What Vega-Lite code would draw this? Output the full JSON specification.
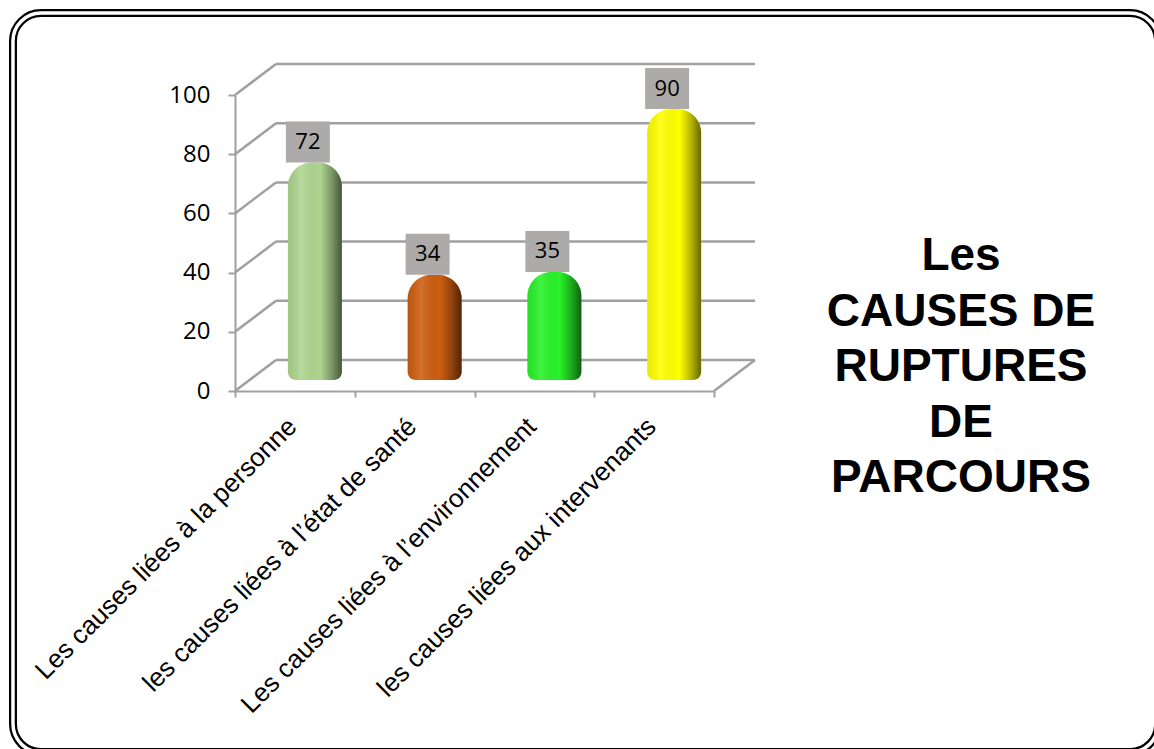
{
  "$schema": "https://vega.github.io/schema/vega-lite/v6.json",
  "width": 479,
  "height": 296,
  "autosize": {"type": "none"},
  "padding": {"left": 235, "top": 95, "right": 440, "bottom": 358},
  "background": "white",
  "config": {
    "view": {"stroke": null},
    "axisY": {
      "domainColor": "#a0a0a0", "domainWidth": 2,
      "tickColor": "#a0a0a0", "tickWidth": 2, "tickSize": 7,
      "labelFont": "Open Sans", "labelFontSize": 24, "labelColor": "black",
      "labelPadding": 18, "grid": false, "title": null
    },
    "axisX": {
      "domainColor": "#a0a0a0", "domainWidth": 2,
      "tickColor": "#a0a0a0", "tickWidth": 2, "tickSize": 6,
      "labelFont": "Liberation Sans", "labelFontSize": 26, "labelColor": "black",
      "labelAngle": -45, "labelLimit": 0, "labelPadding": 16, "labelOffset": -12, "tickBand": "extent", "grid": false, "title": null
    }
  },
  "title": {
    "text": ["Les", "CAUSES DE", "RUPTURES", "DE", "PARCOURS"],
    "orient": "top", "anchor": "start", "frame": "group", "align": "center", "baseline": "top",
    "dx": 726, "dy": 497,
    "font": "Liberation Sans", "fontSize": 46, "fontWeight": "bold", "lineHeight": 55.5, "color": "black"
  },
  "datasets": {
    "causes": [
      {"cause": "Les causes liées à la personne", "value": 72},
      {"cause": "les causes liées à l’état de santé", "value": 34},
      {"cause": "Les causes liées à l’environnement", "value": 35},
      {"cause": "les causes liées aux intervenants", "value": 90}
    ],
    "grid": [{"v": 0}, {"v": 20}, {"v": 40}, {"v": 60}, {"v": 80}, {"v": 100}]
  },
  "layer": [
    {
      "data": {"values": [{}]},
      "layer": [
        {
          "mark": {"type": "rect", "filled": false, "stroke": "black", "strokeWidth": 8, "cornerRadius": 28},
          "encoding": {
            "x": {"datum": -1.854, "type": "quantitative", "scale": {"domain": [0, 4]}, "axis": null},
            "x2": {"datum": 7.708},
            "y": {"datum": 127.7, "type": "quantitative", "scale": {"domain": [0, 100], "nice": false}, "title": null},
            "y2": {"datum": -122.0}
          }
        },
        {
          "mark": {"type": "rect", "filled": false, "stroke": "white", "strokeWidth": 3.5, "cornerRadius": 28},
          "encoding": {
            "x": {"datum": -1.854, "type": "quantitative", "scale": {"domain": [0, 4]}, "axis": null},
            "x2": {"datum": 7.708},
            "y": {"datum": 127.7, "type": "quantitative", "title": null},
            "y2": {"datum": -122.0}
          }
        },
        {
          "mark": {"type": "rule", "stroke": "#a0a0a0", "strokeWidth": 2.5, "x2Offset": 41, "y2Offset": -31},
          "encoding": {
            "x": {"datum": 4, "type": "quantitative", "scale": {"domain": [0, 4]}, "axis": null},
            "x2": {"datum": 4},
            "y": {"datum": 0, "type": "quantitative", "title": null},
            "y2": {"datum": 0}
          }
        }
      ]
    },
    {
      "data": {"name": "grid"},
      "layer": [
        {
          "mark": {"type": "rule", "stroke": "#a0a0a0", "strokeWidth": 2.5, "xOffset": 41, "x2Offset": 41, "yOffset": -31, "y2Offset": -31},
          "encoding": {
            "x": {"datum": 0, "type": "quantitative", "scale": {"domain": [0, 4]}, "axis": null},
            "x2": {"datum": 4},
            "y": {"field": "v", "type": "quantitative", "title": null},
            "y2": {"field": "v"}
          }
        },
        {
          "mark": {"type": "rule", "stroke": "#a0a0a0", "strokeWidth": 2.5, "x2Offset": 41, "y2Offset": -31},
          "encoding": {
            "x": {"datum": 0, "type": "quantitative", "scale": {"domain": [0, 4]}, "axis": null},
            "x2": {"datum": 0},
            "y": {"field": "v", "type": "quantitative", "title": null},
            "y2": {"field": "v"}
          }
        }
      ]
    },
    {
      "data": {"name": "causes"},
      "encoding": {
        "x": {"field": "cause", "type": "nominal", "sort": null, "scale": {"paddingInner": 0, "paddingOuter": 0}, "title": null},
        "y": {"field": "value", "type": "quantitative", "stack": null, "scale": {"domain": [0, 100], "nice": false}, "title": null,
          "axis": {"values": [0, 20, 40, 60, 80, 100]}}
      },
      "layer": [
        {
          "mark": {"type": "bar", "width": 54, "xOffset": 20, "yOffset": -15.5, "y2Offset": -11, "cornerRadiusTopLeft": 24, "cornerRadiusTopRight": 24, "cornerRadiusBottomLeft": 8, "cornerRadiusBottomRight": 8},
          "encoding": {
            "y2": {"datum": 0},
            "color": {"field": "cause", "type": "nominal", "sort": null, "legend": null,
              "scale": {"range": ["#AED58F", "#CC5E10", "#28F228", "#FFFF00"]}}
          }
        },
        {
          "mark": {"type": "bar", "width": 54, "xOffset": 20, "yOffset": -15.5, "y2Offset": -11, "cornerRadiusTopLeft": 24, "cornerRadiusTopRight": 24, "cornerRadiusBottomLeft": 8, "cornerRadiusBottomRight": 8,
            "fill": {"gradient": "linear", "x1": 0, "x2": 1, "y1": 0, "y2": 0, "stops": [
              {"offset": 0, "color": "rgba(0,0,0,0.08)"},
              {"offset": 0.25, "color": "rgba(255,255,255,0.12)"},
              {"offset": 0.6, "color": "rgba(0,0,0,0)"},
              {"offset": 0.82, "color": "rgba(0,0,0,0.3)"},
              {"offset": 1, "color": "rgba(0,0,0,0.6)"}
            ]}},
          "encoding": {"y2": {"datum": 0}}
        },
        {
          "mark": {"type": "point", "shape": "M-1.073,-1H1.073V1H-1.073Z", "size": 1681, "filled": true, "fill": "#ADAAAA", "opacity": 1, "strokeWidth": 0, "xOffset": 13, "yOffset": -36}
        },
        {
          "mark": {"type": "text", "font": "Open Sans", "fontSize": 22, "color": "black", "baseline": "middle", "align": "center", "xOffset": 13, "yOffset": -36},
          "encoding": {"text": {"field": "value", "type": "quantitative"}}
        }
      ]
    }
  ],
  "resolve": {"scale": {"x": "independent"}}
}
